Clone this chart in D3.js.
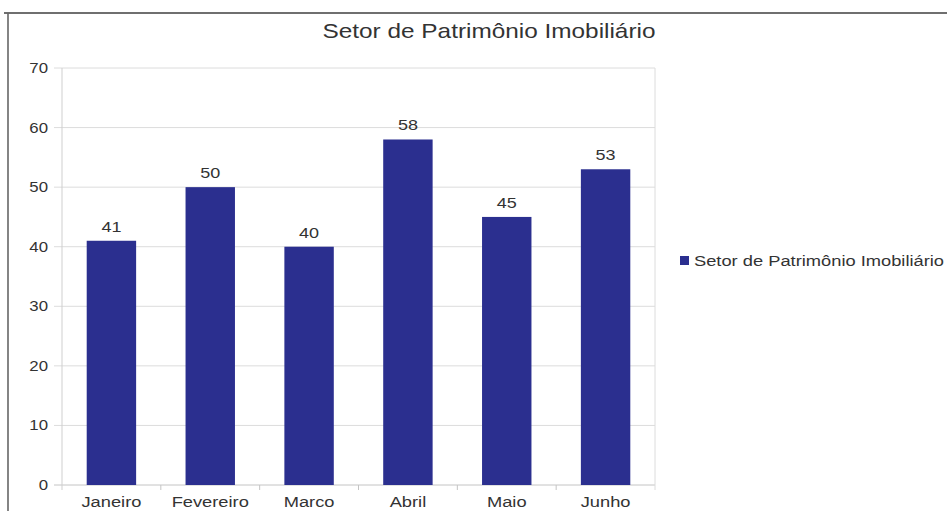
<!DOCTYPE html>
<html>
<head>
<meta charset="utf-8">
<script src="https://cdn.jsdelivr.net/npm/d3@7"></script>
<style>
html,body{margin:0;padding:0;background:#fff;}
svg{display:block;}
text{font-family:"Liberation Sans",Arial,sans-serif;fill:#333;}
</style>
</head>
<body>
<svg id="chart" width="947" height="511"></svg>
<script>
const categories = ["Janeiro","Fevereiro","Marco","Abril","Maio","Junho"];
const values = [41,50,40,58,45,53];
const yTicks = [0,10,20,30,40,50,60,70];
const title = "Setor de Patrimônio Imobiliário";
const seriesName = "Setor de Patrimônio Imobiliário";

const W = 947, H = 511;
const plot = {left: 62, right: 655, top: 68, bottom: 485};
const barColor = "#2b2f8f";

const svg = d3.select("#chart");

// frame lines (scanned page border)
svg.append("line").attr("x1",4).attr("x2",W).attr("y1",13).attr("y2",13)
  .attr("stroke","#6f6f6f").attr("stroke-width",2);
svg.append("line").attr("x1",8).attr("x2",8).attr("y1",13).attr("y2",H)
  .attr("stroke","#666").attr("stroke-width",1.6);

const x = d3.scaleBand().domain(categories).range([plot.left, plot.right])
  .paddingInner(0.5).paddingOuter(0.25);
const y = d3.scaleLinear().domain([0,70]).range([plot.bottom, plot.top]);

// gridlines
svg.append("g").selectAll("line").data(yTicks).join("line")
  .attr("x1", plot.left - 8).attr("x2", plot.right)
  .attr("y1", d => y(d)).attr("y2", d => y(d))
  .attr("stroke", d => d === 0 ? "#c4c4c4" : "#dcdcdc").attr("stroke-width",1);

// y axis line & right border
svg.append("line").attr("x1",plot.left).attr("x2",plot.left).attr("y1",plot.top).attr("y2",plot.bottom+5)
  .attr("stroke","#cfcfcf");
svg.append("line").attr("x1",plot.right).attr("x2",plot.right).attr("y1",plot.top).attr("y2",plot.bottom+5)
  .attr("stroke","#dcdcdc");

// y tick labels
svg.append("g").selectAll("text").data(yTicks).join("text")
  .attr("transform", d => `translate(48,${y(d)+5}) scale(1.2,1)`)
  .attr("text-anchor","end").attr("font-size",14)
  .text(d => d);

// category ticks at band boundaries
const bounds = categories.map(c => x(c) - x.step()*x.paddingInner()/2).slice(1);
svg.append("g").selectAll("line").data(bounds).join("line")
  .attr("x1", d => d).attr("x2", d => d)
  .attr("y1", plot.bottom).attr("y2", plot.bottom+5)
  .attr("stroke","#c4c4c4");

// bars
svg.append("g").selectAll("rect").data(values).join("rect")
  .attr("x", (d,i) => x(categories[i]))
  .attr("width", x.bandwidth())
  .attr("y", d => y(d))
  .attr("height", d => y(0) - y(d))
  .attr("fill", barColor);

// value labels
svg.append("g").selectAll("text").data(values).join("text")
  .attr("transform", (d,i) => `translate(${x(categories[i]) + x.bandwidth()/2},${y(d)-9}) scale(1.2,1)`)
  .attr("text-anchor","middle").attr("font-size",15)
  .text(d => d);

// category labels
svg.append("g").selectAll("text").data(categories).join("text")
  .attr("transform", d => `translate(${x(d) + x.bandwidth()/2},507) scale(1.22,1)`)
  .attr("text-anchor","middle").attr("font-size",15)
  .text(d => d);

// title
svg.append("text")
  .attr("transform", "translate(489,38) scale(1.16,1)")
  .attr("text-anchor","middle").attr("font-size",21)
  .text(title);

// legend
svg.append("rect").attr("x",680).attr("y",256).attr("width",9).attr("height",9).attr("fill",barColor);
svg.append("text")
  .attr("transform","translate(694,266) scale(1.22,1)")
  .attr("font-size",15)
  .text(seriesName);
</script>
</body>
</html>
